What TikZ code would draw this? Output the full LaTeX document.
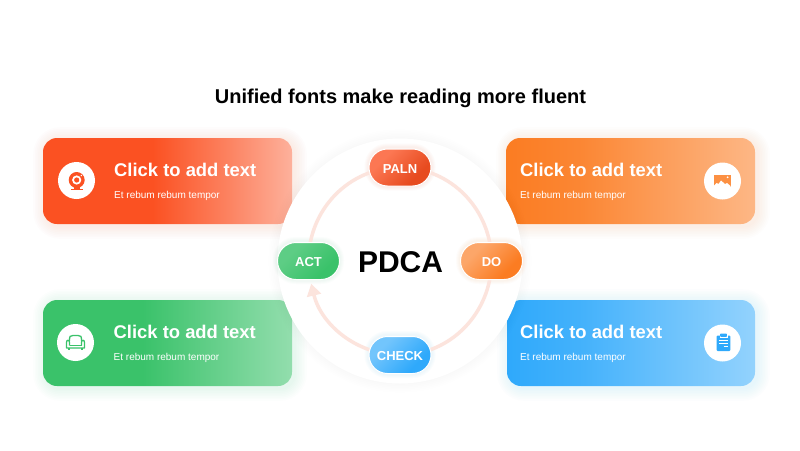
\documentclass[tikz,border=0pt]{standalone}
\usepackage{fontspec}
\setmainfont{Liberation Sans}
\usetikzlibrary{arrows.meta,backgrounds}
\definecolor{ringc}{HTML}{FCE4DD}
\definecolor{redc}{HTML}{FB5122}
\definecolor{orgc}{HTML}{FB7C22}
\definecolor{grnc}{HTML}{3AC26A}
\definecolor{bluc}{HTML}{2FA9FB}
\pgfdeclarehorizontalshading{cardred}{100bp}{color(0bp)=(redc); color(47bp)=(redc); color(62bp)=(redc!72!white); color(75bp)=(redc!45!white); color(100bp)=(redc!45!white)}
\pgfdeclarehorizontalshading{cardorg}{100bp}{color(0bp)=(orgc); color(25bp)=(orgc); color(40bp)=(orgc!92!white); color(75bp)=(orgc!55!white); color(100bp)=(orgc!55!white)}
\pgfdeclarehorizontalshading{cardgrn}{100bp}{color(0bp)=(grnc); color(45bp)=(grnc); color(75bp)=(grnc!55!white); color(100bp)=(grnc!55!white)}
\pgfdeclarehorizontalshading{cardblu}{100bp}{color(0bp)=(bluc); color(25bp)=(bluc); color(40bp)=(bluc!90!white); color(75bp)=(bluc!52!white); color(100bp)=(bluc!52!white)}
\pgfdeclarehorizontalshading{pillred}{100bp}{color(0bp)=(redc!78!white); color(32bp)=(redc!78!white); color(68bp)=(redc!92!black); color(100bp)=(redc!92!black)}
\pgfdeclarehorizontalshading{pillorg}{100bp}{color(0bp)=(orgc!68!white); color(32bp)=(orgc!68!white); color(68bp)=(orgc); color(100bp)=(orgc)}
\pgfdeclarehorizontalshading{pillgrn}{100bp}{color(0bp)=(grnc!82!white); color(32bp)=(grnc!82!white); color(68bp)=(grnc); color(100bp)=(grnc)}
\pgfdeclarehorizontalshading{pillblu}{100bp}{color(0bp)=(bluc!68!white); color(32bp)=(bluc!68!white); color(68bp)=(bluc); color(100bp)=(bluc)}
\newcommand{\softbox}[6]{% colour, x1,y1,x2,y2, radius
  \foreach \k in {1,...,8}{
    \fill[#1,opacity=0.012,rounded corners={(#6+\k*1.6)*1pt}]
      ({#2-\k*1.6+3},{#3-\k*1.6+2}) rectangle ({#4+\k*1.6+2},{#5+\k*1.6+2});
  }}
\tikzset{
  x=1pt,y=-1pt,
  cardtitle/.style={anchor=west,inner sep=0pt,text=white,font=\fontsize{18.4}{20}\selectfont\bfseries},
  cardsub/.style={anchor=west,inner sep=0pt,text=white,font=\fontsize{10}{12}\selectfont},
  pill/.style={rounded corners=18.5pt,minimum width=62pt,minimum height=37pt,inner sep=0pt,
    text height=11.5pt,text depth=0pt,
    draw=white,line width=1pt,text=white,font=\fontsize{13}{15}\selectfont\bfseries,shading angle=-45},
  ringline/.style={draw=ringc,line width=3.5pt},
  iconbg/.style={circle,fill=white,minimum size=37pt,inner sep=0pt},
}
\begin{document}
\begin{tikzpicture}
\pgfdeclarelayer{back}\pgfsetlayers{back,main}
\useasboundingbox (0,0) rectangle (800,450);

\begin{pgfonlayer}{back}
\fill[white] (0,0) rectangle (800,450);
\softbox{redc}{43}{138}{292}{224}{14}
\softbox{orgc}{506}{138}{755}{224}{14}
\softbox{grnc}{43}{300}{292}{386}{14}
\softbox{bluc}{507}{300}{755}{386}{14}
\shade[shading=cardred,shading angle=0,rounded corners=14pt] (43,138) rectangle (292,224);
\shade[shading=cardorg,shading angle=0,rounded corners=14pt] (506,138) rectangle (755,224);
\shade[shading=cardgrn,shading angle=0,rounded corners=14pt] (43,300) rectangle (292,386);
\shade[shading=cardblu,shading angle=0,rounded corners=14pt] (507,300) rectangle (755,386);
\foreach \k in {1,...,6}{\fill[black,opacity=0.005] (400,261) circle ({122+\k*1.6});}
\fill[white] (400,261) circle (122.5);
\end{pgfonlayer}

% title
\node[font=\fontsize{20}{24}\selectfont\bfseries,inner sep=0pt] (title) at (400.5,98) {Unified fonts make reading more fluent};

% card texts
\node[cardtitle] (t1) at (114,170) {Click to add text};
\node[cardsub] (s1) at (114,195.5) {Et rebum rebum tempor};
\node[cardtitle] (t2) at (520,170) {Click to add text};
\node[cardsub] (s2) at (520,195.5) {Et rebum rebum tempor};
\node[cardtitle] (t3) at (113.5,332) {Click to add text};
\node[cardsub] (s3) at (113.5,357.5) {Et rebum rebum tempor};
\node[cardtitle] (t4) at (520,332) {Click to add text};
\node[cardsub] (s4) at (520,357.5) {Et rebum rebum tempor};

% icon discs
\node[iconbg] (i1) at (76.5,180.5) {};
\node[iconbg] (i2) at (722.5,181) {};
\node[iconbg] (i3) at (75.5,342.5) {};
\node[iconbg] (i4) at (722.5,343) {};

% webcam icon
\fill[redc] (76.7,180) circle (8);
\fill[white] (76.7,180) circle (4.6);
\fill[redc] (76.7,180) circle (2.6);
\fill[white] (81.3,175.5) circle (0.8);
\fill[redc] (73.5,186) rectangle (80,188.5);
\fill[redc] (70.5,188.5) rectangle (82.8,190);

% picture icon
\fill[orgc!85!white] (713.5,175) rectangle (730.5,187);
\fill[white] (713.5,187) -- (713.5,186) -- (716.5,183) -- (718.5,184) -- (721,180.5) -- (725,184) -- (727,183) -- (730.5,186) -- (730.5,187) -- cycle;
\fill[white] (727.6,177.3) circle (1);

% sofa icon
\begin{scope}[draw=grnc,line width=1.3pt,line join=round]
\draw (69.5,341) .. controls (69.5,336) and (70,335.5) .. (73,335.5) -- (78,335.5) .. controls (81,335.5) and (81.5,336) .. (81.5,341);
\draw (69.5,345.5) -- (81.5,345.5);
\draw (69.5,345.5) -- (69.5,342.5) .. controls (69.5,339.5) and (66.5,339.5) .. (66.5,342.5) -- (66.5,348) -- (84.5,348) -- (84.5,342.5) .. controls (84.5,339.5) and (81.5,339.5) .. (81.5,342.5) -- (81.5,345.5);
\draw (69,348) -- (69,350);
\draw (82,348) -- (82,350);
\end{scope}

% clipboard icon
\fill[bluc,rounded corners=1pt] (716.6,335.5) rectangle (730.4,351);
\fill[white] (719.5,334) rectangle (727.5,337.5);
\fill[bluc,rounded corners=0.6pt] (720.2,333.6) rectangle (726.8,336.8);
\draw[white,line width=0.8pt] (719,340.5) -- (728,340.5) (719,343.5) -- (728,343.5) (723.5,346.5) -- (728,346.5);

% pills
\node[pill,shading=pillred] (paln) at (400,167.5) {PALN};
\node[pill,shading=pillorg] (do) at (491.5,261) {DO};
\node[pill,shading=pillblu] (check) at (400,355) {CHECK};
\node[pill,shading=pillgrn] (act) at (308.5,261) {ACT};
\node[font=\fontsize{30}{34}\selectfont\bfseries,inner sep=0pt] (pdca) at (400.5,262) {PDCA};

\begin{pgfonlayer}{back}
\foreach \n/\c in {paln/redc,do/orgc,check/bluc,act/grnc}{
  \foreach \k in {1,...,4}{
    \fill[\c,opacity=0.02,rounded corners={(18.5+\k)*1pt}]
      ([xshift=-\k pt,yshift=-\k pt]\n.south west) rectangle ([xshift=\k pt,yshift=\k pt+1pt]\n.north east);
  }
}
\draw[ringline] (paln.center) to[out=0,in=90] (do.center);
\draw[ringline] (do.center) to[out=-90,in=0] (check.center);
\draw[ringline] (act.center) to[out=90,in=180] (paln.center);
\draw[ringline,-{Triangle[length=12pt,width=14pt]}] (check.center) arc[start angle=90,end angle=166,x radius=91.5,y radius=94];
\end{pgfonlayer}
\end{tikzpicture}
\end{document}
